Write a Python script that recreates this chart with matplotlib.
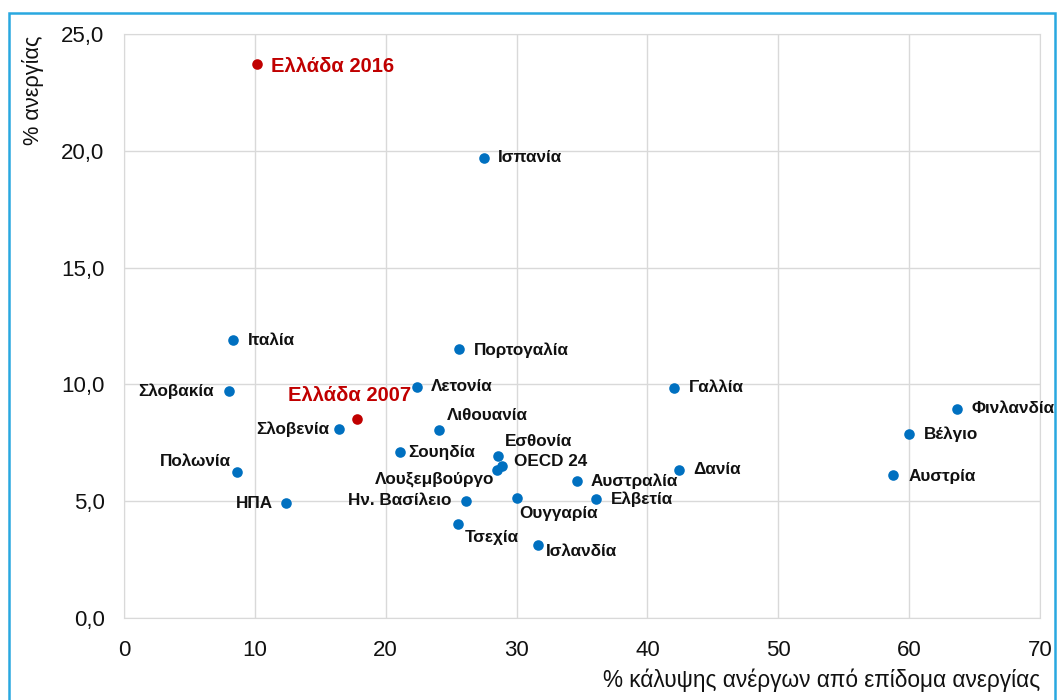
import matplotlib
matplotlib.use("Agg")
import matplotlib.pyplot as plt
from matplotlib.patches import Rectangle
from matplotlib.ticker import FuncFormatter, MultipleLocator

plt.rcParams['font.family'] = ['Liberation Sans', 'DejaVu Sans']

# coverage of unemployed by unemployment benefit (%) vs unemployment rate (%)
countries = ["Ισπανία", "Ιταλία", "Πορτογαλία", "Σλοβακία", "Λετονία", "Γαλλία",
             "Σλοβενία", "Λιθουανία", "Φινλανδία", "Βέλγιο", "Σουηδία", "Εσθονία",
             "OECD 24", "Λουξεμβούργο", "Πολωνία", "Δανία", "Αυστρία", "Αυστραλία",
             "Ελβετία", "Ουγγαρία", "Ην. Βασίλειο", "ΗΠΑ", "Τσεχία", "Ισλανδία"]
coverage = [27.5, 8.3, 25.6, 8.0, 22.4, 42.0,
            16.4, 24.1, 63.65, 60.0, 21.1, 28.6,
            28.9, 28.5, 8.6, 42.4, 58.8, 34.6,
            36.1, 30.0, 26.1, 12.4, 25.5, 31.6]
unemployment = [19.7, 11.9, 11.5, 9.7, 9.9, 9.85,
                8.1, 8.05, 8.95, 7.88, 7.1, 6.93,
                6.5, 6.33, 6.25, 6.33, 6.12, 5.86,
                5.09, 5.14, 5.01, 4.92, 4.02, 3.12]

greece_labels = ["Ελλάδα 2016", "Ελλάδα 2007"]
greece_coverage = [10.2, 17.8]
greece_unemployment = [23.7, 8.52]

# label placement: (dx, dy) in pixels, horizontal alignment
label_pos = {
    "Ισπανία": (14, 0, "left"), "Ιταλία": (15, 0, "left"),
    "Πορτογαλία": (15, -1, "left"), "Σλοβακία": (-15, 0, "right"),
    "Λετονία": (14, 0, "left"), "Γαλλία": (15, 0, "left"),
    "Σλοβενία": (-9, 0, "right"), "Λιθουανία": (8, 14, "left"),
    "Φινλανδία": (15, 0, "left"), "Βέλγιο": (15, 0, "left"),
    "Σουηδία": (8, 0, "left"), "Εσθονία": (7, 15, "left"),
    "OECD 24": (12, 5, "left"), "Λουξεμβούργο": (-3, -9, "right"),
    "Πολωνία": (-6, 11, "right"), "Δανία": (14, 1, "left"),
    "Αυστρία": (15, -1, "left"), "Αυστραλία": (14, 0, "left"),
    "Ελβετία": (14, 0, "left"), "Ουγγαρία": (3, -16, "left"),
    "Ην. Βασίλειο": (-14, 0, "right"), "ΗΠΑ": (-13, 0, "right"),
    "Τσεχία": (7, -13, "left"), "Ισλανδία": (8, -6, "left"),
}
greece_pos = {"Ελλάδα 2016": (14, -2, "left"), "Ελλάδα 2007": (-7, 23, "center")}

blue = "#0070c0"
red = "#c00000"
text_col = "#111111"

fig = plt.figure(figsize=(10.58, 7), dpi=100)
ax = fig.add_axes([124 / 1058, 82 / 700, 916 / 1058, 584 / 700])

ax.scatter(coverage, unemployment, s=58, color=blue, zorder=3, linewidths=0)
ax.scatter(greece_coverage, greece_unemployment, s=58, color=red, zorder=3, linewidths=0)

for name, x, y in zip(countries, coverage, unemployment):
    dx, dy, ha = label_pos[name]
    ax.annotate(name, (x, y), xytext=(dx, dy), textcoords="offset pixels",
                ha=ha, va="center", fontsize=12.3, fontweight="bold", color=text_col)

for name, x, y in zip(greece_labels, greece_coverage, greece_unemployment):
    dx, dy, ha = greece_pos[name]
    ax.annotate(name, (x, y), xytext=(dx, dy), textcoords="offset pixels",
                ha=ha, va="center", fontsize=14.5, fontweight="bold", color=red)

ax.set_xlim(0, 70)
ax.set_ylim(0, 25)
ax.xaxis.set_major_locator(MultipleLocator(10))
ax.yaxis.set_major_locator(MultipleLocator(5))
ax.yaxis.set_major_formatter(FuncFormatter(lambda v, p: f"{v:.1f}".replace(".", ",")))
ax.grid(True, color="#d9d9d9", linewidth=1)
ax.set_axisbelow(True)
for s in ax.spines.values():
    s.set_color("#d9d9d9")
ax.tick_params(length=0, labelsize=16, colors=text_col)
ax.tick_params(axis="x", pad=16)
ax.tick_params(axis="y", pad=14)

ax.set_xlabel("% κάλυψης ανέργων από επίδομα ανεργίας", loc="right", fontsize=16.3,
              color=text_col, labelpad=5)
fig.text(33 / 1058, 1 - 36 / 700, "% ανεργίας", rotation=90, ha="center", va="top",
         fontsize=15.7, color=text_col)

fig.patches.append(Rectangle((9 / 1058, -0.01), 1046 / 1058, 1 - 13 / 700 + 0.01,
                             transform=fig.transFigure, fill=False,
                             edgecolor="#29a8e0", linewidth=1.8))

fig.savefig("out.png", dpi=100)
